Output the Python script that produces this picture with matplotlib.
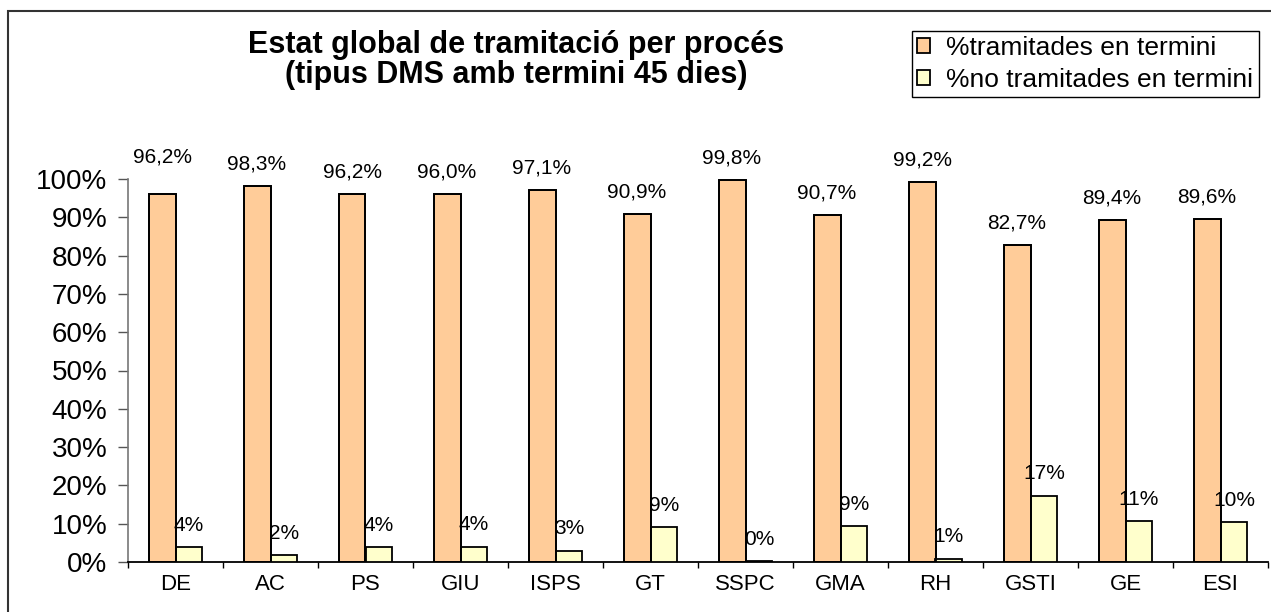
import matplotlib.pyplot as plt
from matplotlib.patches import Rectangle
from matplotlib.ticker import FuncFormatter
import numpy as np

# data
categories = ["DE", "AC", "PS", "GIU", "ISPS", "GT", "SSPC", "GMA", "RH", "GSTI", "GE", "ESI"]
in_time = [96.2, 98.3, 96.2, 96.0, 97.1, 90.9, 99.8, 90.7, 99.2, 82.7, 89.4, 89.6]
not_in_time = [3.8, 1.7, 3.8, 4.0, 2.9, 9.1, 0.2, 9.3, 0.8, 17.3, 10.6, 10.4]
series_names = ["%tramitades en termini", "%no tramitades en termini"]

plt.rcParams["font.family"] = ["Liberation Sans", "DejaVu Sans"]

W, H = 1271, 612
fig = plt.figure(figsize=(W / 100, H / 100), dpi=100)
ax = fig.add_axes([128 / W, 1 - 562 / H, (1268 - 128) / W, (562 - 179) / H])

x = np.arange(len(categories))
bw = 0.284
b1 = ax.bar(x - bw / 2, in_time, bw, color="#FFCC99", edgecolor="black",
            linewidth=1.3, zorder=3, label=series_names[0])
b2 = ax.bar(x + bw / 2, not_in_time, bw, color="#FFFFCC", edgecolor="black",
            linewidth=1.3, zorder=3, label=series_names[1])
# bar outlines drawn again on top so the small labels run under the edge line
ax.bar(x - bw / 2, in_time, bw, fill=False, edgecolor="black", linewidth=1.3, zorder=5)

# data labels (px above bar top); DE label sits higher in the original
for i, v in enumerate(in_time):
    off = 37 if i == 0 else 22
    ax.annotate(f"{v:.1f}".replace(".", ",") + "%", (x[i] - bw / 2, v),
                xytext=(0, off * 0.72), textcoords="offset points",
                ha="center", va="center", fontsize=15, annotation_clip=False)
for i, v in enumerate(not_in_time):
    ax.annotate(f"{round(v):d}%", (x[i] + bw / 2, v),
                xytext=(0, 22 * 0.72), textcoords="offset points",
                ha="center", va="center", fontsize=15, zorder=4)

ax.set_xlim(-0.5, len(categories) - 0.5)
ax.set_ylim(0, 100)
ax.set_yticks(np.arange(0, 101, 10))
ax.yaxis.set_major_formatter(FuncFormatter(lambda v, _: f"{v:.0f}%"))
ax.set_xticks(x)
ax.set_xticklabels(categories, fontsize=16)
ax.set_xticks(np.arange(-0.5, len(categories)), minor=True)
ax.tick_params(axis="x", which="major", length=0, pad=9)
ax.tick_params(axis="x", which="minor", length=4, width=1, color="black")
ax.tick_params(axis="y", labelsize=20, length=7, width=1, color="#555555", pad=8)

for s in ("top", "right"):
    ax.spines[s].set_visible(False)
ax.spines["left"].set_color("#777777")
ax.spines["left"].set_linewidth(1.2)
ax.spines["bottom"].set_color("black")
ax.spines["bottom"].set_linewidth(1.3)

fig.text(516 / W, 1 - 45 / H, "Estat global de tramitació per procés",
         ha="center", va="center", fontsize=22, fontweight="bold")
fig.text(516 / W, 1 - 75 / H, "(tipus DMS amb termini 45 dies)",
         ha="center", va="center", fontsize=22, fontweight="bold")

leg = fig.legend(handles=[b1, b2], loc="upper left",
                 bbox_to_anchor=(912 / W, 1 - 31 / H), borderaxespad=0,
                 fontsize=19, handlelength=0.5, handleheight=0.5,
                 handletextpad=0.6, labelspacing=0.3, borderpad=0.2,
                 fancybox=False, shadow=False, framealpha=1)
leg.get_frame().set_edgecolor("black")
leg.get_frame().set_linewidth(1)

# outer chart border, cut off at the right and bottom like the original
fig.patches.append(Rectangle((8 / W, -0.05), 1.1, 1 - 11 / H + 0.05,
                             transform=fig.transFigure, fill=False,
                             edgecolor="#333333", linewidth=1.5))

fig.savefig("out.png", dpi=100)
